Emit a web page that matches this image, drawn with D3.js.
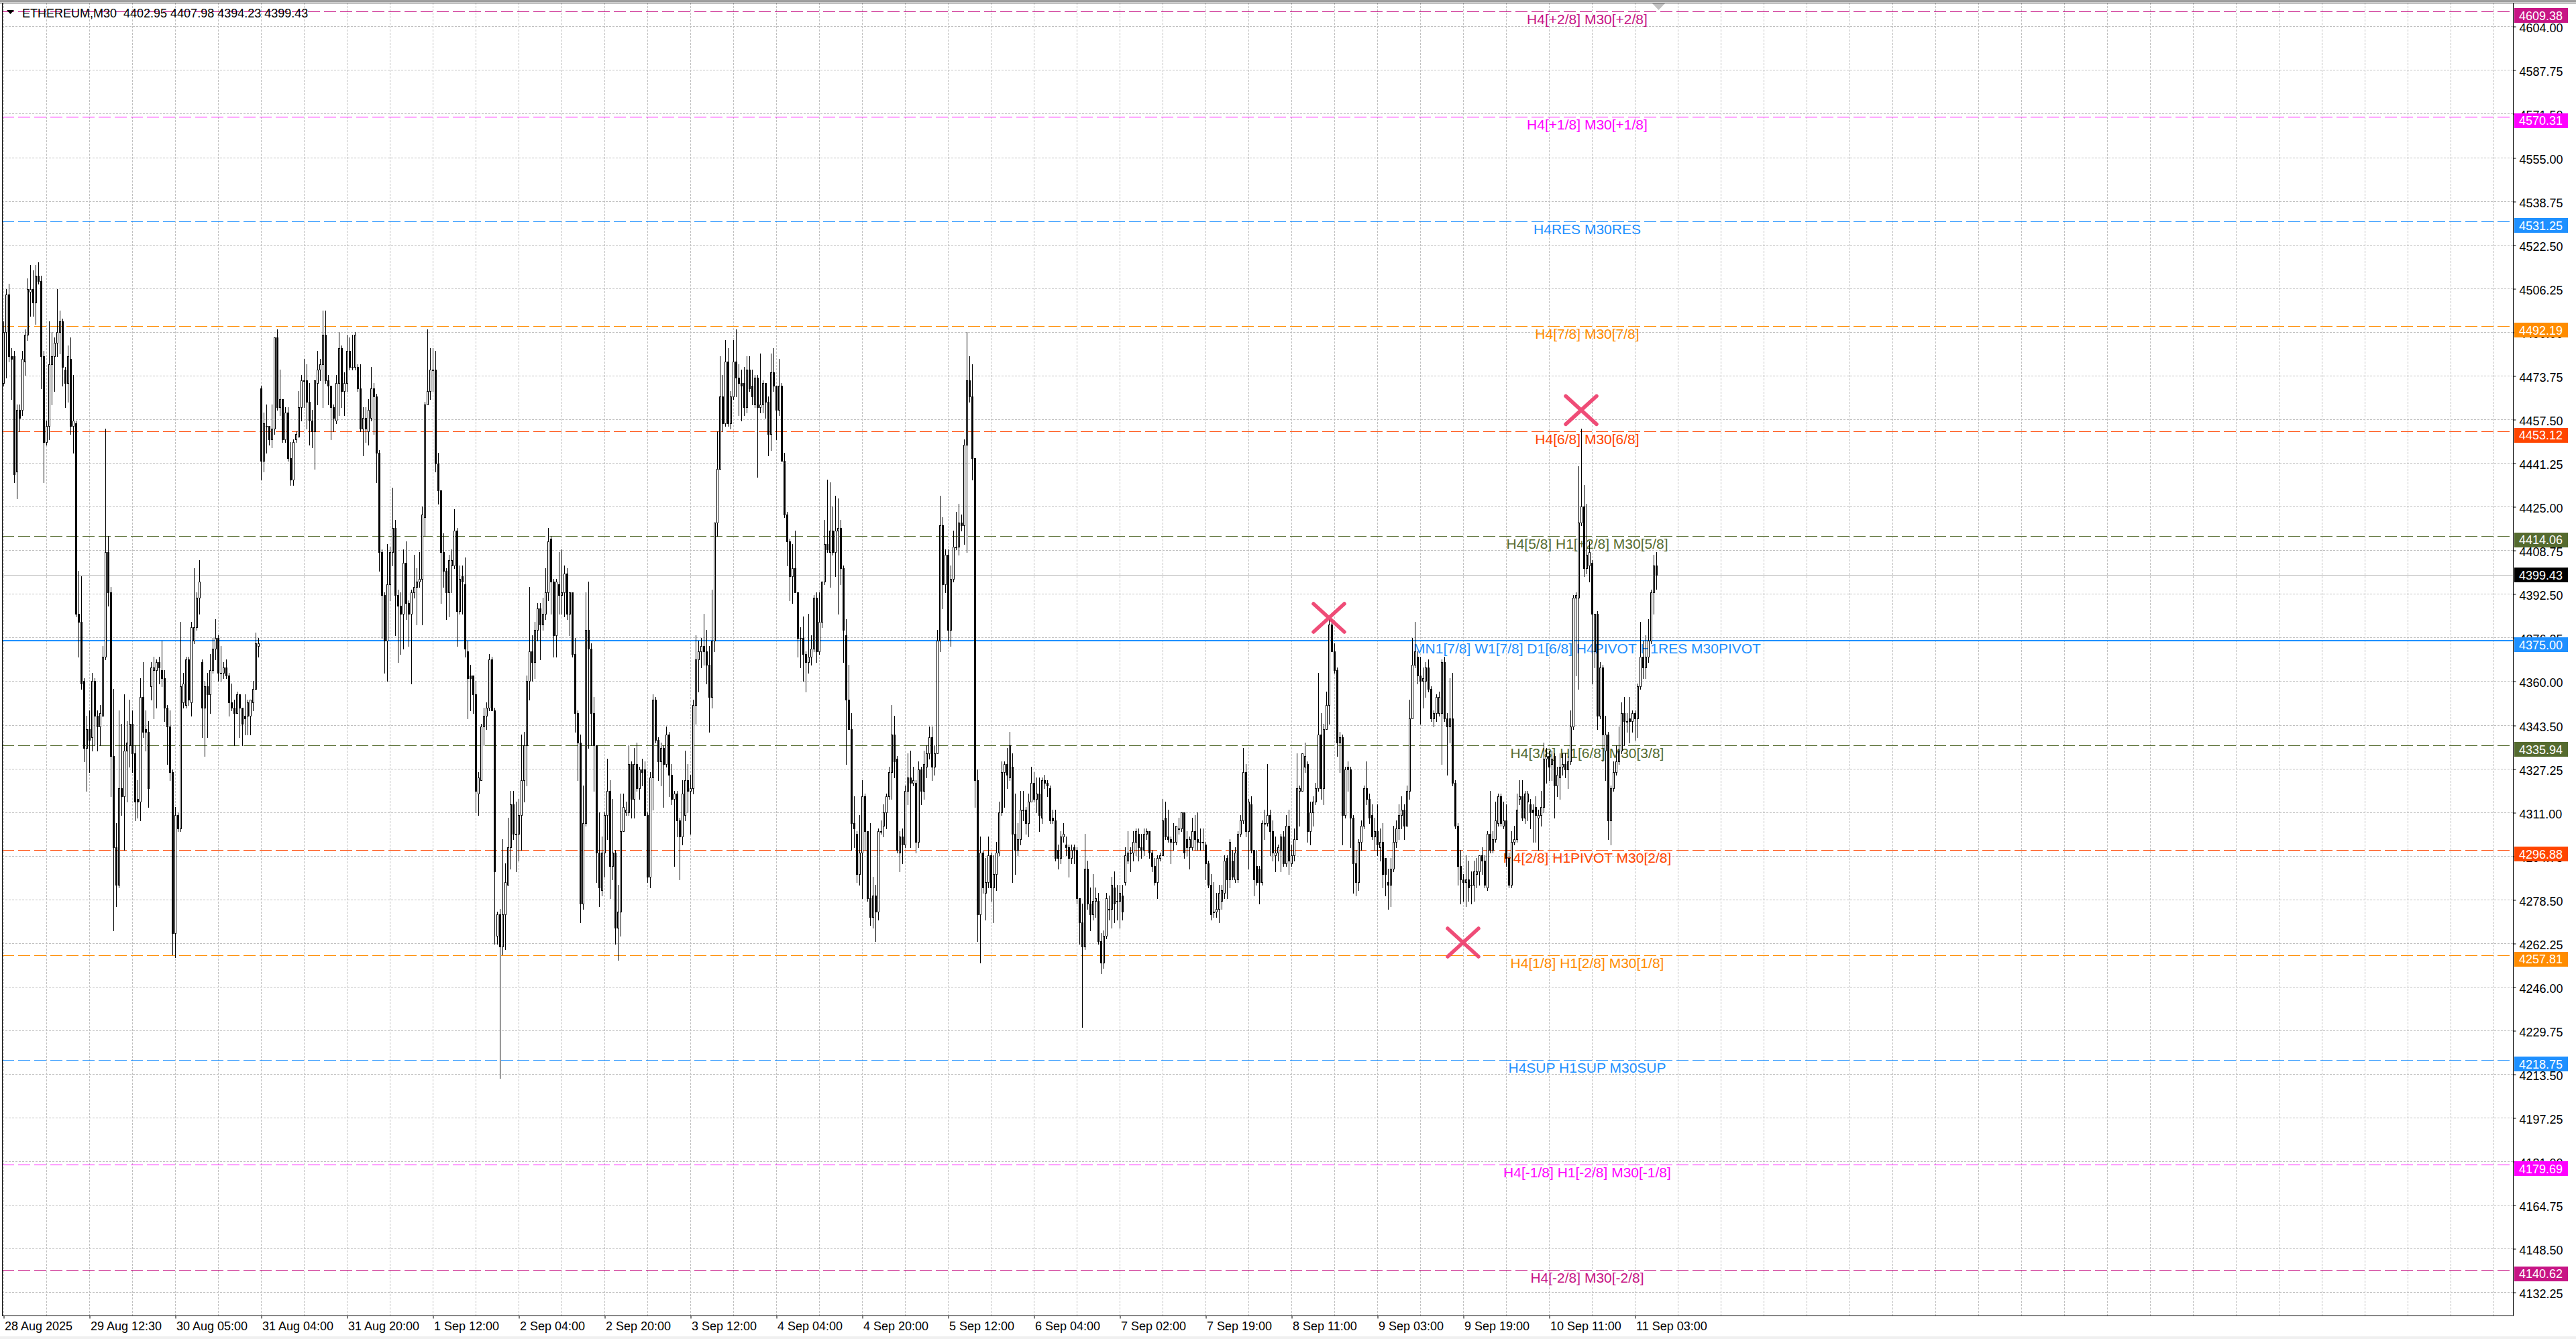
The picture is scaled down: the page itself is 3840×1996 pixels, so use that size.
<!DOCTYPE html>
<html>
<head>
<meta charset="utf-8">
<script src="https://cdn.jsdelivr.net/npm/d3@7"></script>
<style>
html, body { margin: 0; padding: 0; background: #ffffff; }
svg { display: block; }
</style>
</head>
<body>
<div id="chart"></div>
<script>
// ETHEREUM M30 candles with Murrey Math levels (MT4 style)

const symbol = 'ETHEREUM,M30';

// OHLC per M30 bar, oldest first (617 bars)
const opens = [
  4471,4490,4504,4481,4481,4438,4461,4461,4479,4489, 4505,4506,4501,4511,4509,4481,4449,4455,4478,4481,
  4486,4490,4494,4476,4471,4480,4455,4456,4385,4382, 4360,4335,4342,4339,4360,4347,4343,4347,4369,4408,
  4393,4332,4298,4284,4320,4317,4334,4336,4344,4333, 4316,4315,4354,4342,4341,4358,4364,4364,4367,4364,
  4361,4350,4343,4326,4266,4310,4305,4352,4351,4368, 4352,4375,4380,4391,4367,4350,4358,4355,4364,4372,
  4376,4363,4363,4365,4362,4352,4350,4348,4355,4350, 4347,4347,4347,4352,4357,4373,4469,4442,4455,4455,
  4450,4454,4488,4462,4465,4450,4460,4443,4435,4450, 4451,4462,4472,4472,4464,4457,4453,4471,4476,4478,
  4489,4472,4470,4462,4457,4471,4484,4468,4471,4483, 4477,4477,4477,4469,4454,4458,4453,4458,4469,4466,
  4445,4408,4392,4375,4396,4408,4417,4392,4388,4385, 4404,4389,4385,4393,4395,4397,4398,4421,4463,4468,
  4476,4476,4441,4431,4408,4401,4393,4403,4403,4416, 4386,4399,4396,4371,4362,4362,4355,4318,4323,4343,
  4347,4350,4368,4349,4265,4273,4261,4273,4284,4298, 4314,4303,4303,4310,4323,4336,4360,4371,4367,4379,
  4387,4381,4385,4393,4413,4397,4377,4396,4392,4393, 4400,4385,4393,4370,4348,4337,4277,4307,4379,4372,
  4348,4336,4296,4282,4296,4310,4319,4291,4296,4268, 4274,4304,4311,4311,4329,4316,4329,4320,4327,4327,
  4310,4287,4324,4353,4338,4330,4335,4329,4340,4325, 4316,4318,4308,4302,4310,4323,4319,4320,4351,4368,
  4371,4373,4371,4366,4354,4375,4419,4439,4466,4456, 4479,4456,4466,4479,4473,4471,4471,4462,4476,4470,
  4463,4473,4462,4463,4471,4464,4452,4475,4470,4461, 4470,4442,4422,4412,4399,4402,4393,4376,4376,4370,
  4367,4369,4372,4391,4371,4382,4397,4411,4408,4416, 4408,4416,4417,4402,4377,4353,4342,4307,4303,4288,
  4296,4317,4304,4279,4272,4280,4274,4304,4306,4311, 4317,4326,4340,4331,4296,4302,4299,4319,4324,4322,
  4322,4300,4327,4319,4328,4333,4339,4328,4333,4375, 4418,4396,4407,4379,4398,4410,4410,4419,4418,4448,
  4472,4466,4443,4323,4273,4296,4281,4285,4295,4283, 4288,4296,4311,4326,4329,4324,4328,4303,4297,4301,
  4312,4312,4307,4315,4322,4316,4318,4309,4323,4322, 4320,4309,4308,4297,4294,4302,4299,4298,4294,4298,
  4297,4279,4270,4261,4290,4277,4273,4278,4278,4263, 4255,4265,4275,4275,4283,4278,4278,4280,4285,4293,
  4296,4296,4300,4303,4298,4297,4303,4304,4296,4291, 4285,4294,4295,4309,4302,4301,4300,4300,4305,4305,
  4311,4301,4298,4298,4304,4301,4300,4300,4299,4292, 4284,4274,4274,4275,4278,4281,4294,4286,4293,4286,
  4286,4303,4308,4326,4304,4314,4297,4291,4290,4285, 4307,4307,4310,4304,4295,4296,4297,4302,4292,4306,
  4292,4295,4301,4319,4319,4328,4329,4304,4311,4315, 4320,4340,4320,4342,4351,4381,4371,4364,4337,4339,
  4310,4328,4327,4309,4292,4285,4300,4306,4320,4316, 4310,4302,4304,4298,4300,4294,4285,4284,4290,4300,
  4305,4310,4312,4306,4319,4346,4366,4369,4362,4360, 4360,4365,4357,4346,4348,4348,4348,4367,4346,4343,
  4346,4322,4306,4291,4286,4285,4286,4284,4284,4288, 4289,4295,4293,4283,4303,4297,4301,4307,4317,4306,
  4308,4294,4284,4300,4301,4316,4317,4309,4315,4314, 4312,4313,4309,4310,4313,4331,4332,4329,4332,4321,
  4324,4328,4329,4327,4330,4343,4391,4391,4419,4425, 4402,4403,4404,4371,4385,4347,4365,4334,4340,4308,
  4320,4326,4330,4334,4348,4345,4346,4345,4348,4346, 4358,4369,4365,4369,4375,4393,4402.95
];
const highs = [
  4494,4506,4508,4484,4483,4463,4463,4483,4491,4510, 4515,4513,4515,4516,4511,4483,4457,4494,4490,4488,
  4506,4498,4495,4477,4485,4488,4474,4457,4401,4399, 4361,4347,4349,4363,4361,4349,4351,4373,4454,4414,
  4395,4357,4307,4349,4344,4355,4345,4353,4349,4336, 4323,4361,4367,4349,4345,4367,4369,4368,4369,4375,
  4364,4351,4349,4327,4313,4311,4382,4363,4369,4369, 4382,4402,4393,4405,4368,4360,4363,4370,4376,4383,
  4377,4373,4367,4368,4363,4359,4353,4356,4355,4350, 4355,4353,4353,4360,4378,4376,4470,4460,4463,4455,
  4463,4488,4491,4476,4465,4462,4462,4449,4450,4453, 4468,4474,4480,4478,4471,4461,4472,4483,4480,4498,
  4498,4474,4470,4463,4474,4490,4485,4475,4489,4488, 4489,4490,4478,4478,4462,4462,4465,4477,4471,4467,
  4446,4409,4393,4411,4410,4432,4420,4394,4393,4409, 4412,4390,4394,4407,4402,4408,4425,4464,4491,4484,
  4484,4483,4445,4431,4415,4402,4407,4409,4424,4417, 4403,4403,4406,4375,4366,4362,4360,4326,4344,4350,
  4352,4370,4369,4350,4274,4275,4301,4292,4309,4319, 4319,4315,4316,4340,4341,4362,4395,4377,4382,4389,
  4389,4391,4402,4417,4414,4398,4398,4408,4409,4403, 4402,4393,4393,4376,4349,4340,4321,4393,4397,4374,
  4354,4336,4311,4302,4311,4331,4323,4316,4297,4284, 4318,4318,4315,4336,4330,4335,4337,4328,4331,4330,
  4311,4326,4355,4354,4339,4337,4336,4343,4341,4329, 4319,4319,4309,4323,4334,4329,4325,4353,4377,4375,
  4376,4385,4379,4373,4394,4419,4453,4481,4474,4487, 4484,4468,4487,4491,4478,4476,4477,4481,4481,4476,
  4474,4474,4482,4472,4471,4466,4482,4484,4470,4480, 4471,4445,4423,4413,4411,4416,4393,4380,4384,4371,
  4385,4377,4392,4393,4393,4397,4420,4435,4434,4425, 4429,4428,4420,4403,4383,4366,4348,4317,4304,4310,
  4323,4318,4304,4307,4287,4284,4305,4308,4314,4318, 4328,4351,4347,4332,4304,4305,4321,4333,4334,4328,
  4323,4330,4328,4334,4336,4343,4343,4336,4379,4429, 4421,4409,4409,4403,4416,4423,4426,4422,4450,4490,
  4481,4478,4443,4327,4302,4297,4294,4302,4296,4295, 4300,4315,4330,4330,4335,4341,4333,4318,4307,4319,
  4319,4313,4318,4328,4326,4324,4324,4324,4325,4323, 4321,4312,4312,4299,4304,4307,4302,4299,4299,4299,
  4298,4279,4277,4303,4293,4283,4288,4283,4281,4266, 4267,4281,4280,4287,4289,4284,4284,4284,4298,4304,
  4298,4304,4305,4305,4303,4305,4305,4304,4297,4294, 4295,4296,4316,4315,4312,4302,4307,4306,4309,4311,
  4311,4304,4302,4309,4310,4311,4305,4305,4300,4293, 4288,4285,4281,4284,4284,4295,4295,4301,4297,4298,
  4304,4310,4335,4329,4316,4317,4297,4297,4291,4308, 4312,4329,4312,4308,4302,4299,4303,4304,4310,4312,
  4299,4305,4333,4321,4333,4337,4330,4315,4317,4322, 4363,4348,4344,4356,4383,4383,4374,4365,4341,4340,
  4328,4330,4328,4310,4297,4301,4308,4321,4330,4318, 4314,4309,4314,4305,4307,4294,4290,4294,4306,4308,
  4314,4317,4314,4321,4353,4376,4382,4371,4369,4365, 4367,4368,4358,4349,4355,4356,4368,4369,4348,4361,
  4363,4323,4307,4297,4288,4295,4293,4289,4293,4294, 4295,4298,4295,4304,4319,4304,4315,4318,4318,4315,
  4314,4296,4304,4306,4318,4323,4323,4319,4319,4316, 4314,4317,4312,4319,4337,4335,4334,4334,4333,4328,
  4333,4333,4333,4332,4349,4392,4393,4440,4454,4433, 4426,4412,4405,4385,4386,4367,4366,4347,4341,4321,
  4330,4336,4343,4352,4354,4348,4354,4349,4349,4359, 4382,4375,4377,4383,4394,4407,4407.98
];
const lows = [
  4470,4473,4479,4465,4434,4428,4453,4459,4474,4487, 4496,4496,4493,4508,4469,4434,4448,4450,4463,4468,
  4481,4482,4470,4462,4464,4452,4445,4384,4369,4357, 4330,4319,4326,4334,4336,4334,4336,4347,4368,4388,
  4317,4267,4276,4283,4310,4297,4315,4328,4326,4308, 4309,4308,4339,4334,4313,4353,4346,4350,4359,4358,
  4345,4329,4323,4258,4257,4304,4304,4350,4350,4351, 4347,4374,4379,4385,4339,4332,4339,4348,4363,4368,
  4360,4360,4361,4361,4347,4349,4336,4348,4339,4336, 4340,4340,4340,4349,4357,4369,4435,4438,4445,4448,
  4447,4452,4461,4459,4449,4449,4442,4433,4433,4449, 4451,4457,4462,4454,4448,4447,4439,4463,4472,4462,
  4471,4463,4450,4453,4456,4459,4462,4459,4468,4476, 4476,4476,4468,4453,4444,4449,4448,4457,4452,4434,
  4401,4376,4363,4360,4390,4403,4377,4367,4370,4372, 4383,4373,4359,4391,4381,4395,4381,4414,4463,4465,
  4468,4438,4426,4389,4395,4383,4384,4393,4402,4373, 4385,4385,4369,4346,4349,4348,4311,4310,4323,4336,
  4342,4349,4349,4262,4262,4212,4258,4260,4284,4290, 4301,4289,4293,4297,4315,4321,4353,4360,4361,4375,
  4368,4379,4383,4390,4385,4369,4369,4385,4385,4384, 4383,4377,4369,4341,4323,4270,4275,4306,4335,4336,
  4319,4285,4276,4280,4287,4301,4279,4286,4262,4256, 4265,4304,4310,4310,4309,4309,4319,4316,4321,4310,
  4285,4283,4312,4337,4323,4321,4313,4328,4317,4314, 4291,4302,4286,4299,4308,4311,4303,4318,4344,4356,
  4365,4366,4359,4341,4350,4371,4414,4439,4453,4455, 4455,4454,4465,4466,4459,4457,4459,4460,4468,4463,
  4462,4436,4460,4460,4458,4444,4446,4468,4450,4459, 4442,4421,4403,4390,4389,4393,4369,4365,4360,4356,
  4363,4366,4371,4367,4370,4380,4396,4408,4395,4407, 4399,4385,4396,4367,4329,4342,4297,4298,4285,4284,
  4279,4297,4278,4269,4268,4263,4271,4303,4302,4305, 4316,4316,4324,4296,4289,4292,4298,4314,4298,4321,
  4296,4298,4314,4316,4324,4331,4323,4325,4333,4371, 4387,4393,4375,4373,4397,4409,4407,4416,4411,4408,
  4464,4435,4313,4263,4255,4281,4271,4283,4278,4270, 4282,4295,4310,4313,4320,4323,4285,4288,4295,4299,
  4308,4303,4302,4315,4315,4311,4304,4307,4320,4317, 4307,4307,4293,4290,4292,4300,4295,4287,4292,4292,
  4277,4262,4231,4260,4275,4267,4271,4272,4262,4251, 4253,4264,4271,4268,4270,4271,4268,4271,4284,4292,
  4289,4293,4295,4293,4294,4295,4301,4294,4289,4284, 4279,4293,4295,4301,4300,4292,4297,4299,4303,4304,
  4294,4295,4290,4297,4297,4297,4297,4297,4286,4283, 4271,4272,4272,4270,4275,4279,4279,4283,4286,4285,
  4285,4302,4307,4302,4290,4296,4280,4284,4277,4284, 4301,4306,4295,4293,4289,4293,4289,4291,4291,4288,
  4291,4293,4301,4306,4319,4326,4300,4299,4306,4314, 4319,4316,4314,4342,4344,4371,4363,4332,4326,4299,
  4309,4319,4298,4281,4280,4282,4297,4305,4314,4307, 4301,4297,4295,4293,4283,4280,4275,4276,4289,4298,
  4301,4305,4301,4306,4316,4346,4365,4359,4344,4350, 4354,4356,4345,4343,4345,4347,4329,4345,4325,4337,
  4321,4305,4284,4277,4278,4276,4278,4277,4278,4283, 4284,4288,4283,4282,4296,4296,4300,4306,4306,4305,
  4291,4283,4283,4299,4300,4314,4308,4307,4308,4305, 4300,4300,4297,4306,4311,4322,4323,4323,4309,4317,
  4316,4325,4324,4320,4329,4342,4362,4357,4418,4399, 4400,4397,4359,4365,4342,4346,4330,4323,4301,4299,
  4319,4325,4329,4333,4336,4341,4337,4341,4338,4339, 4357,4361,4361,4367,4374,4385,4394.23
];
const closes = [
  4490,4504,4481,4480,4437,4461,4458,4480,4489,4506, 4506,4501,4511,4509,4481,4449,4455,4478,4481,4486,
  4490,4494,4477,4471,4481,4455,4457,4385,4382,4359, 4335,4342,4338,4360,4347,4343,4348,4369,4408,4393,
  4332,4298,4284,4320,4317,4334,4337,4344,4333,4315, 4315,4354,4341,4341,4320,4365,4365,4367,4365,4361,
  4350,4343,4326,4266,4310,4305,4358,4359,4368,4353, 4380,4380,4391,4397,4350,4358,4355,4364,4372,4376,
  4363,4363,4365,4362,4352,4350,4348,4355,4350,4344, 4346,4352,4353,4357,4374,4374,4442,4456,4455,4450,
  4454,4488,4462,4465,4450,4460,4443,4435,4449,4452, 4462,4472,4472,4464,4457,4453,4472,4476,4478,4489,
  4472,4470,4462,4458,4471,4484,4468,4471,4483,4477, 4477,4489,4469,4454,4458,4454,4461,4469,4466,4445,
  4408,4392,4375,4396,4408,4417,4392,4388,4385,4404, 4389,4385,4393,4395,4397,4398,4422,4463,4468,4476,
  4476,4441,4431,4408,4401,4393,4405,4405,4416,4386, 4398,4397,4372,4361,4361,4355,4319,4324,4343,4347,
  4350,4368,4349,4289,4273,4261,4273,4285,4298,4314, 4303,4303,4310,4323,4336,4360,4371,4367,4379,4387,
  4381,4385,4393,4412,4397,4377,4397,4392,4393,4400, 4385,4393,4370,4348,4337,4277,4307,4379,4372,4348,
  4336,4296,4283,4296,4310,4319,4291,4296,4268,4274, 4304,4313,4312,4329,4316,4329,4320,4327,4326,4310,
  4287,4324,4353,4338,4330,4335,4329,4340,4325,4316, 4318,4308,4302,4318,4323,4319,4320,4351,4368,4371,
  4373,4371,4366,4354,4375,4419,4439,4466,4456,4479, 4456,4466,4479,4473,4471,4470,4462,4476,4469,4466,
  4473,4462,4463,4471,4464,4452,4475,4470,4461,4470, 4442,4422,4412,4399,4402,4393,4376,4376,4370,4367,
  4369,4372,4391,4371,4382,4397,4411,4409,4416,4408, 4416,4417,4402,4379,4353,4342,4307,4305,4288,4296,
  4317,4304,4279,4272,4280,4274,4304,4304,4311,4317, 4326,4340,4330,4297,4302,4299,4319,4324,4322,4323,
  4300,4327,4319,4329,4333,4339,4328,4333,4375,4418, 4396,4407,4379,4398,4410,4410,4419,4418,4448,4472,
  4466,4443,4323,4273,4296,4283,4285,4295,4283,4288, 4296,4311,4326,4329,4325,4336,4303,4297,4301,4312,
  4312,4307,4315,4322,4316,4318,4310,4323,4322,4321, 4308,4308,4294,4294,4302,4303,4298,4294,4297,4297,
  4279,4270,4261,4290,4277,4273,4278,4279,4263,4255, 4265,4279,4275,4284,4277,4278,4281,4274,4295,4296,
  4296,4300,4304,4298,4297,4303,4304,4296,4291,4285, 4294,4295,4308,4302,4301,4300,4300,4306,4305,4311,
  4296,4298,4301,4304,4301,4300,4300,4300,4292,4284, 4273,4274,4275,4281,4282,4293,4286,4300,4287,4296,
  4303,4308,4326,4304,4315,4297,4286,4285,4285,4307, 4307,4310,4304,4296,4296,4298,4302,4292,4306,4293,
  4295,4301,4320,4320,4333,4332,4304,4311,4315,4320, 4340,4320,4342,4351,4381,4371,4364,4337,4339,4310,
  4327,4327,4309,4292,4285,4300,4306,4320,4316,4309, 4302,4304,4299,4300,4288,4288,4284,4290,4300,4305,
  4310,4312,4306,4319,4346,4366,4371,4362,4360,4361, 4365,4357,4346,4348,4354,4354,4367,4346,4343,4346,
  4322,4306,4291,4286,4285,4286,4283,4284,4289,4289, 4295,4293,4284,4303,4297,4301,4308,4317,4307,4308,
  4294,4284,4300,4301,4312,4317,4309,4318,4318,4311, 4311,4310,4310,4313,4331,4332,4328,4331,4321,4325,
  4328,4329,4327,4330,4343,4391,4392,4419,4425,4402, 4407,4408,4385,4385,4347,4365,4340,4340,4308,4320,
  4326,4330,4334,4348,4345,4345,4345,4348,4346,4358, 4369,4365,4369,4375,4393,4403,4399.43
];

// price axis grid labels
const priceTicks = [4604.00,4587.75,4571.50,4555.00,4538.75,4522.50,4506.25,4490.00,4473.75,4457.50,
  4441.25,4425.00,4408.75,4392.50,4376.25,4360.00,4343.50,4327.25,4311.00,4294.75,
  4278.50,4262.25,4246.00,4229.75,4213.50,4197.25,4181.00,4164.75,4148.50,4132.25];

// time axis labels, one every 32 bars
const timeLabels = ['28 Aug 2025','29 Aug 12:30','30 Aug 05:00','31 Aug 04:00','31 Aug 20:00',
  '1 Sep 12:00','2 Sep 04:00','2 Sep 20:00','3 Sep 12:00','4 Sep 04:00','4 Sep 20:00',
  '5 Sep 12:00','6 Sep 04:00','7 Sep 02:00','7 Sep 19:00','8 Sep 11:00','9 Sep 03:00',
  '9 Sep 19:00','10 Sep 11:00','11 Sep 03:00'];

// Murrey Math octave levels
const levelPrices = [4609.38,4570.31,4531.25,4492.19,4453.12,4414.06,4375.00,
  4335.94,4296.88,4257.81,4218.75,4179.69,4140.62];
const levelNames = ['H4[+2/8] M30[+2/8]','H4[+1/8] M30[+1/8]','H4RES M30RES',
  'H4[7/8] M30[7/8]','H4[6/8] M30[6/8]','H4[5/8] H1[+2/8] M30[5/8]',
  'MN1[7/8] W1[7/8] D1[6/8] H4PIVOT H1RES M30PIVOT','H4[3/8] H1[6/8] M30[3/8]',
  'H4[2/8] H1PIVOT M30[2/8]','H4[1/8] H1[2/8] M30[1/8]','H4SUP H1SUP M30SUP',
  'H4[-1/8] H1[-2/8] M30[-1/8]','H4[-2/8] M30[-2/8]'];

// cross markers (bar index, price)
const crossBars = [588, 494, 544];
const crossPrices = [4460.9, 4383.5, 4262.5];

// ---- styles ----
const LEVEL_COLORS = ['#c71585','#ff00ff','#1e90ff','#ff8c00','#ff4500','#556b2f','#1e90ff',
  '#556b2f','#ff4500','#ff8c00','#1e90ff','#ff00ff','#c71585'];
const FONT = '"Liberation Sans", Arial, sans-serif';
const GRID = '#c0c0c0';

const width = 3840, height = 1996;
const pL = 3, pT = 4, pR = 3746, pB = 1961;

const x = d3.scaleLinear().domain([0, 1]).range([5, 9]);          // 4 px per bar
const y = d3.scaleLinear().domain([4375, 4604]).range([955, 39]);  // 4 px per point
const fmt = d3.format('.2f');

const svg = d3.select('#chart').append('svg')
    .attr('width', width)
    .attr('height', height)
    .style('font-family', FONT);

svg.append('rect').attr('width', width).attr('height', height).attr('fill', '#ffffff');
svg.append('rect').attr('width', width).attr('height', 3).attr('fill', '#a0a0a0');
svg.append('rect').attr('y', 1992).attr('width', width).attr('height', 4).attr('fill', '#f0f0f0');

const plot = svg.append('g');

// grid
const nVert = Math.floor((pR - x(0)) / 64) + 1;
plot.selectAll('.vgrid')
    .data(d3.range(0, nVert * 16, 16))
    .enter().append('line')
    .attr('x1', d => Math.round(x(d)) + 0.5).attr('x2', d => Math.round(x(d)) + 0.5)
    .attr('y1', pT).attr('y2', pB)
    .attr('stroke', GRID).attr('stroke-dasharray', '3,2');

plot.selectAll('.hgrid')
    .data(priceTicks)
    .enter().append('line')
    .attr('x1', pL).attr('x2', pR)
    .attr('y1', d => Math.round(y(d)) + 0.5).attr('y2', d => Math.round(y(d)) + 0.5)
    .attr('stroke', GRID).attr('stroke-dasharray', '3,2');

// level lines
plot.selectAll('.level')
    .data(levelPrices)
    .enter().append('line')
    .attr('x1', pL).attr('x2', pR)
    .attr('y1', (d, i) => i === 6 ? Math.round(y(d)) : Math.round(y(d)) + 0.5)
    .attr('y2', (d, i) => i === 6 ? Math.round(y(d)) : Math.round(y(d)) + 0.5)
    .attr('stroke', (d, i) => LEVEL_COLORS[i])
    .attr('stroke-width', (d, i) => i === 6 ? 2 : 1)
    .attr('stroke-dasharray', (d, i) => i === 6 ? null : '18,6');

// level labels
plot.selectAll('.levelText')
    .data(levelPrices)
    .enter().append('text')
    .attr('x', 2366)
    .attr('y', d => y(d) + 19)
    .attr('text-anchor', 'middle')
    .attr('font-size', 21)
    .attr('fill', (d, i) => LEVEL_COLORS[i])
    .text((d, i) => levelNames[i]);

// bid line
const last = closes.length - 1;
plot.append('line')
    .attr('x1', pL).attr('x2', pR)
    .attr('y1', Math.round(y(closes[last])) + 0.5).attr('y2', Math.round(y(closes[last])) + 0.5)
    .attr('stroke', '#c0c0c0');

// candles
const bars = d3.range(opens.length);
const candle = plot.selectAll('.candle')
    .data(bars)
    .enter().append('g')
    .attr('shape-rendering', 'crispEdges');

candle.append('line')
    .attr('x1', i => Math.round(x(i)) + 0.5).attr('x2', i => Math.round(x(i)) + 0.5)
    .attr('y1', i => Math.round(y(Math.max(highs[i], opens[i], closes[i]))))
    .attr('y2', i => Math.round(y(Math.min(lows[i], opens[i], closes[i]))) + 1)
    .attr('stroke', '#000');

candle.append('rect')
    .attr('x', i => Math.round(x(i)) - 0.5)
    .attr('width', 2)
    .attr('y', i => Math.round(y(Math.max(opens[i], closes[i]))) + 0.5)
    .attr('height', i => Math.max(1, Math.round(Math.abs(y(opens[i]) - y(closes[i])))))
    .attr('fill', i => closes[i] >= opens[i] ? '#ffffff' : '#000000')
    .attr('stroke', '#000');

// cross markers
plot.selectAll('.cross')
    .data(crossBars)
    .enter().append('path')
    .attr('d', (d, i) => {
        const cx = x(d), cy = y(crossPrices[i]);
        return `M${cx - 23},${cy - 21}L${cx + 23},${cy + 21}M${cx - 23},${cy + 21}L${cx + 23},${cy - 21}`;
    })
    .attr('stroke', '#ee3d6b')
    .attr('stroke-width', 5.5)
    .attr('stroke-linecap', 'round')
    .attr('fill', 'none')
    .attr('opacity', 0.92);

// frame
svg.append('line').attr('x1', 0).attr('x2', width).attr('y1', pT + 0.5).attr('y2', pT + 0.5).attr('stroke', '#000');
svg.append('line').attr('x1', pL + 0.5).attr('x2', pL + 0.5).attr('y1', pT).attr('y2', pB).attr('stroke', '#000');
svg.append('line').attr('x1', pR + 0.5).attr('x2', pR + 0.5).attr('y1', pT).attr('y2', pB + 1).attr('stroke', '#000');
svg.append('line').attr('x1', pL).attr('x2', pR + 1).attr('y1', pB + 0.5).attr('y2', pB + 0.5).attr('stroke', '#000');

// chart shift marker
svg.append('path').attr('d', 'M2463,5L2482,5L2472.5,15Z').attr('fill', '#c0c0c0');

// price axis
const yAxis = svg.append('g')
    .attr('transform', `translate(${pR + 0.5},0.5)`)
    .call(d3.axisRight(y).tickValues(priceTicks).tickSize(4).tickPadding(5).tickFormat(fmt));
yAxis.select('.domain').remove();
yAxis.selectAll('.tick line').attr('stroke', '#000');
yAxis.selectAll('.tick text')
    .attr('font-family', FONT).attr('font-size', 18).attr('fill', '#000')
    .attr('dy', '0.45em');

// level price boxes
const boxes = svg.selectAll('.lvlBox')
    .data(levelPrices)
    .enter().append('g');
boxes.append('rect')
    .attr('x', pR + 2).attr('width', 80)
    .attr('y', d => Math.round(y(d)) - 5).attr('height', 22)
    .attr('fill', (d, i) => LEVEL_COLORS[i]);
boxes.append('text')
    .attr('x', pR + 9).attr('y', d => y(d) + 12.5)
    .attr('font-size', 18).attr('fill', '#fff')
    .text(d => fmt(d));

// bid price box
svg.append('rect')
    .attr('x', pR + 2).attr('width', 80)
    .attr('y', Math.round(y(closes[last])) - 11).attr('height', 22)
    .attr('fill', '#000');
svg.append('text')
    .attr('x', pR + 9).attr('y', y(closes[last]) + 7)
    .attr('font-size', 18).attr('fill', '#fff')
    .text(fmt(closes[last]));

// time axis
const labelBars = timeLabels.map((d, i) => i * 32);
const xAxis = svg.append('g')
    .attr('transform', `translate(0.5,${pB + 0.5})`)
    .call(d3.axisBottom(x).tickValues(labelBars).tickSize(4).tickPadding(5)
        .tickFormat((d, i) => timeLabels[i]));
xAxis.select('.domain').remove();
xAxis.selectAll('.tick line').attr('stroke', '#000');
xAxis.selectAll('.tick text')
    .attr('font-family', FONT).attr('font-size', 18).attr('fill', '#000')
    .attr('text-anchor', 'start').attr('x', 1);

// header
svg.append('path').attr('d', 'M10,15L21,15L15.5,21Z').attr('fill', '#000');
svg.append('text')
    .attr('x', 33).attr('y', 26)
    .attr('font-size', 18).attr('fill', '#000')
    .style('white-space', 'pre')
    .text(`${symbol}  ${fmt(opens[last])} ${fmt(highs[last])} ${fmt(lows[last])} ${fmt(closes[last])}`);
</script>
</body>
</html>
